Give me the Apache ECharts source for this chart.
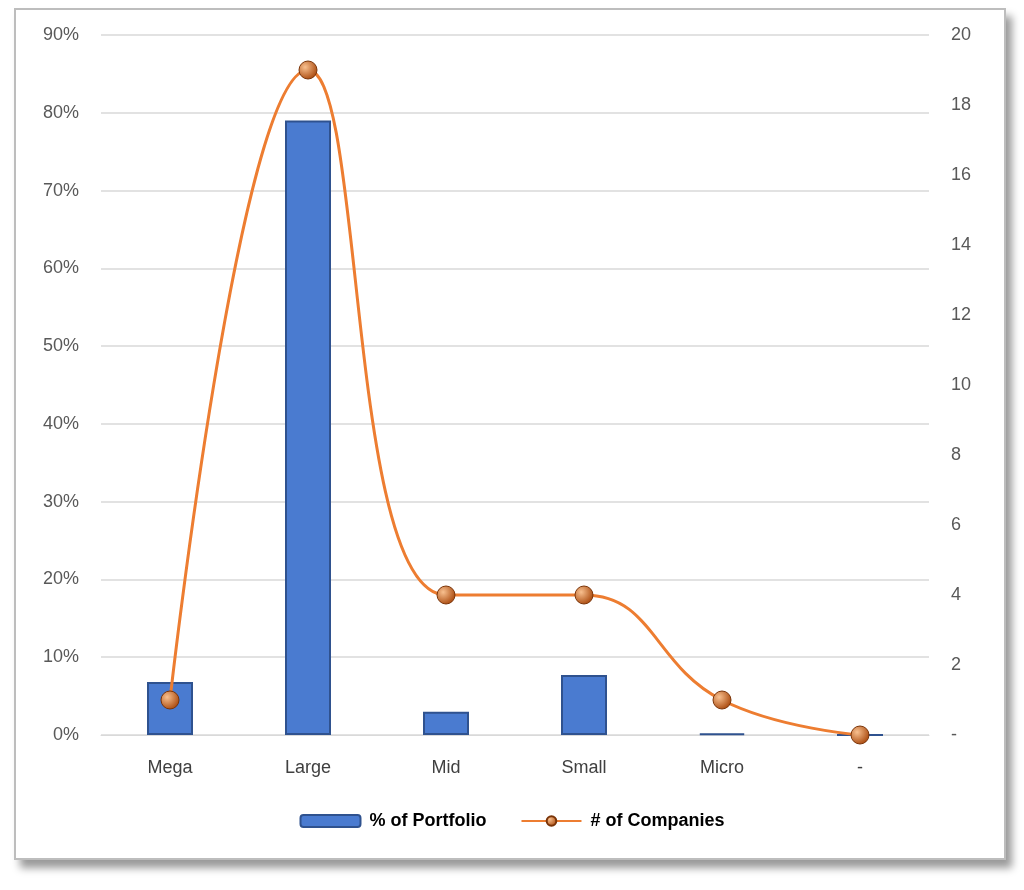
<!DOCTYPE html>
<html>
<head>
<meta charset="utf-8">
<script src="https://cdn.jsdelivr.net/npm/echarts@6/dist/echarts.min.js"></script>
<style>
  body { margin: 0; background: #fff; }
  #frame { position: absolute; left: 14px; top: 8px; width: 988px; height: 848px;
    border: 2px solid #bdbdbd; box-shadow: 6px 8px 8px #9a9a9a; background: #fff; }
  #chart { position: absolute; left: 0; top: 0; width: 1024px; height: 890px; }
</style>
</head>
<body>
<div id="frame"></div>
<div id="chart"></div>
<script>
    var categories = ['Mega', 'Large', 'Mid', 'Small', 'Micro', '-']
    var portfolio = [6.8, 79.0, 3.0, 7.7, 0.2, 0]
    var companies = [1, 19, 4, 4, 1, 0]

    var chart = echarts.init(document.getElementById('chart'))

    chart.setOption({
        textStyle: { fontFamily: 'Liberation Sans, Arial, sans-serif' },
        legend: {
            bottom: 55,
            itemGap: 34,
            itemWidth: 60,
            itemHeight: 12,
            textStyle: { fontSize: 18, fontWeight: 'bold', color: '#000', padding: [0, 0, 0, 4] },
            data: ['% of Portfolio', '# of Companies']
        },
        grid: { left: 101, right: 95, top: 35, bottom: 155 },
        xAxis: {
            type: 'category',
            data: categories,
            axisTick: { show: false },
            axisLine: { lineStyle: { color: '#d9d9d9' } },
            axisLabel: { fontSize: 18, color: '#404040', margin: 24 }
        },
        yAxis: [
            {
                type: 'value', min: 0, max: 90, interval: 10,
                axisLabel: { formatter: '{value}%', fontSize: 18, color: '#595959', margin: 22 },
                splitLine: { lineStyle: { color: '#d9d9d9', width: 1.5 } }
            },
            {
                type: 'value', min: 0, max: 20, interval: 2,
                axisLabel: {
                    formatter: (v) => v === 0 ? '-' : v,
                    fontSize: 18, color: '#595959', margin: 22
                },
                splitLine: { show: false }
            }
        ],
        series: [
            {
                name: '% of Portfolio',
                type: 'bar',
                barWidth: 46,
                data: portfolio,
                itemStyle: { color: '#4a7bd0', borderColor: '#2f528f', borderWidth: 2 }
            },
            {
                name: '# of Companies',
                type: 'line',
                yAxisIndex: 1,
                smooth: 0.45,
                data: companies,
                symbol: 'circle',
                symbolSize: 18,
                lineStyle: { color: '#ed7d31', width: 3 },
                itemStyle: {
                    color: {
                        type: 'radial', x: 0.35, y: 0.35, r: 0.7,
                        colorStops: [{ offset: 0, color: '#f8c08f' }, { offset: 1, color: '#a8470b' }]
                    },
                    borderColor: '#7a3408', borderWidth: 1
                }
            }
        ]
    })
</script>
</body>
</html>
